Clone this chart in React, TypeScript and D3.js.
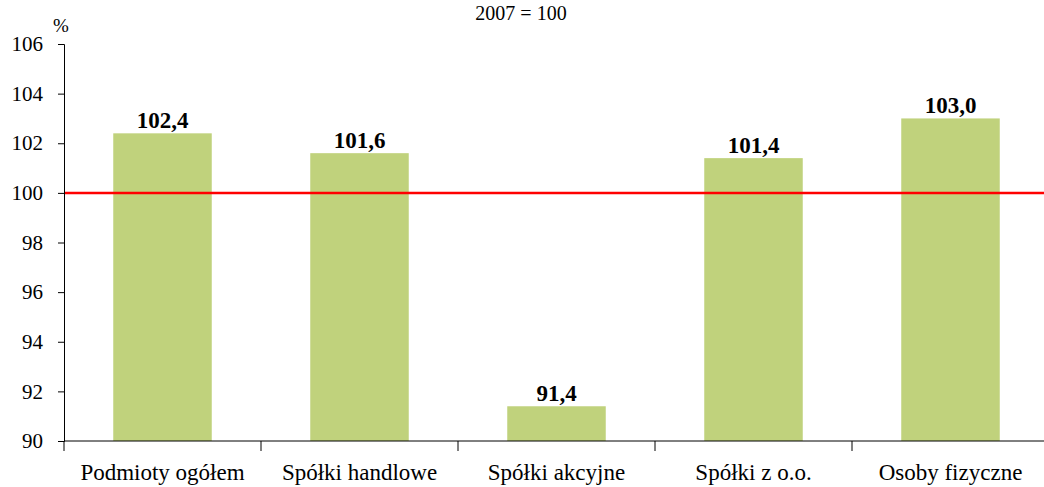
import React, { useEffect, useRef } from "react";
import * as d3 from "d3";

const categories = ["Podmioty ogółem", "Spółki handlowe", "Spółki akcyjne", "Spółki z o.o.", "Osoby fizyczne"];
const values = [102.4, 101.6, 91.4, 101.4, 103.0];
const yTicks = [90, 92, 94, 96, 98, 100, 102, 104, 106];
const baseLine = 100;

const serif = "Liberation Serif, Times New Roman, serif";

export default function App() {
  const ref = useRef<SVGSVGElement>(null);

  useEffect(() => {
    const svg = d3.select(ref.current);
    svg.selectAll("*").remove();

    const margin = { top: 44, left: 64 };
    const width = 985, height = 397;
    const g = svg.append("g").attr("transform", `translate(${margin.left},${margin.top})`);

    const x = d3.scaleBand().domain(categories).range([0, width]).paddingInner(0.5).paddingOuter(0.25);
    const y = d3.scaleLinear().domain([90, 106]).range([height, 0]);

    svg.append("text")
      .attr("x", 521).attr("y", 20)
      .attr("text-anchor", "middle")
      .style("font-family", serif).style("font-size", "20px")
      .text("2007 = 100");

    svg.append("text")
      .attr("x", 61).attr("y", 32)
      .attr("text-anchor", "middle")
      .style("font-family", serif).style("font-size", "19px")
      .text("%");

    g.selectAll("rect.bar")
      .data(values)
      .enter()
      .append("rect")
      .attr("class", "bar")
      .attr("fill", "#c0d27c")
      .attr("x", (d, i) => x(categories[i])!)
      .attr("width", x.bandwidth())
      .attr("y", d => y(d))
      .attr("height", d => height - y(d));

    g.selectAll("text.val")
      .data(values)
      .enter()
      .append("text")
      .attr("class", "val")
      .attr("x", (d, i) => x(categories[i])! + x.bandwidth() / 2)
      .attr("y", d => y(d) - 5)
      .attr("text-anchor", "middle")
      .style("font-family", serif).style("font-size", "23px").style("font-weight", "bold")
      .text(d => d.toFixed(1).replace(".", ","));

    g.append("line")
      .attr("x1", 0).attr("x2", width)
      .attr("y1", y(baseLine)).attr("y2", y(baseLine))
      .attr("stroke", "#ff0000").attr("stroke-width", 2.5);

    const yAxis = g.append("g")
      .call(d3.axisLeft(y).tickValues(yTicks).tickSize(6).tickPadding(15).tickFormat(d3.format("d")));
    yAxis.attr("font-family", serif);
    yAxis.selectAll("text").style("font-family", serif).style("font-size", "21px").attr("fill", "#000");
    yAxis.select(".domain").attr("stroke", "#000");

    const xAxis = g.append("g").attr("transform", `translate(0,${height})`);
    xAxis.append("line").attr("x1", 0).attr("x2", width).attr("stroke", "#000");
    const bounds = d3.range(categories.length).map(i => i * x.step());
    xAxis.selectAll("line.tk")
      .data(bounds)
      .enter()
      .append("line")
      .attr("class", "tk")
      .attr("x1", d => d).attr("x2", d => d)
      .attr("y1", 0).attr("y2", 10)
      .attr("stroke", "#000");
    xAxis.selectAll("text")
      .data(categories)
      .enter()
      .append("text")
      .attr("x", d => x(d)! + x.bandwidth() / 2)
      .attr("y", 39)
      .attr("text-anchor", "middle")
      .style("font-family", serif).style("font-size", "23px")
      .text(d => d);
  }, []);

  return (
    <svg ref={ref} width={1044} height={487} style={{ position: "absolute", left: 0, top: 0 }}></svg>
  );
}
